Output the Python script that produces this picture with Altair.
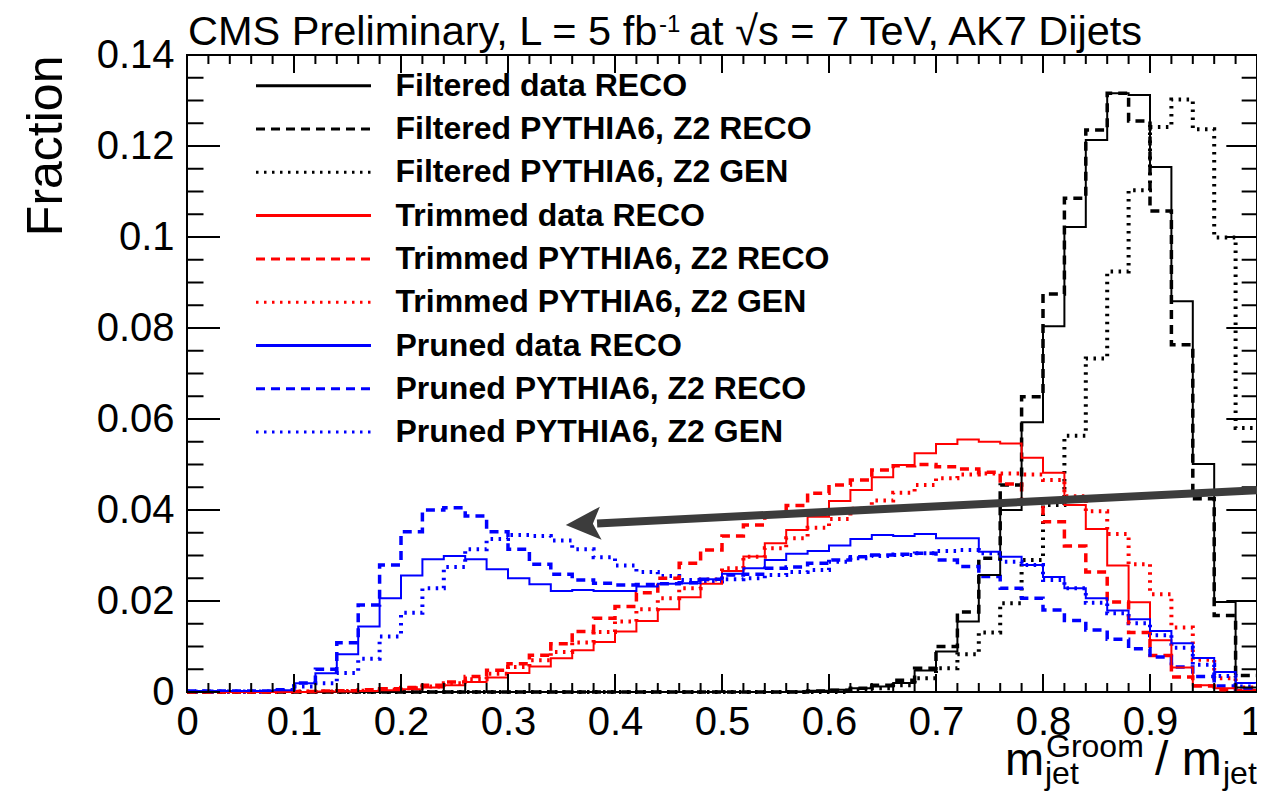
import altair as alt
import pandas as pd

# ---------------- data ----------------
bin_edges = [round(i * 0.02, 2) for i in range(51)]   # 50 bins of width 0.02 on [0, 1]

series_names = [
    "Filtered data RECO", "Filtered PYTHIA6, Z2 RECO", "Filtered PYTHIA6, Z2 GEN",
    "Trimmed data RECO", "Trimmed PYTHIA6, Z2 RECO", "Trimmed PYTHIA6, Z2 GEN",
    "Pruned data RECO", "Pruned PYTHIA6, Z2 RECO", "Pruned PYTHIA6, Z2 GEN",
]

filtered_data_reco = [0, 0, 0, 0, 0, 0, 0, 0, 0, 0,
                      0, 0, 0, 0, 0, 0, 0, 0, 0, 0,
                      0, 0, 0, 0, 0, 0, 0, 0, 0.0001, 0.0003,
                      0.0005, 0.0008, 0.0012, 0.002, 0.0047, 0.0089, 0.0155, 0.0257, 0.040, 0.0593,
                      0.0804, 0.1022, 0.1213, 0.1316, 0.1312, 0.1154, 0.0859, 0.0501, 0.0198, 0.001]
filtered_mc_reco = [0, 0, 0, 0, 0, 0, 0, 0, 0, 0,
                    0, 0, 0, 0, 0, 0, 0, 0, 0, 0,
                    0, 0, 0, 0, 0, 0, 0, 0, 0, 0.0002,
                    0.0004, 0.0008, 0.0015, 0.0026, 0.0052, 0.0100, 0.0176, 0.0294, 0.0455, 0.0649,
                    0.0875, 0.1085, 0.1235, 0.1316, 0.1255, 0.1057, 0.0763, 0.0425, 0.0168, 0.0036]
filtered_mc_gen = [0, 0, 0, 0, 0, 0, 0, 0, 0, 0,
                   0, 0, 0, 0, 0, 0, 0, 0, 0, 0,
                   0, 0, 0, 0, 0, 0, 0, 0, 0, 0,
                   0, 0.0005, 0.0008, 0.0015, 0.003, 0.0052, 0.0083, 0.0131, 0.0195, 0.029,
                   0.0411, 0.0563, 0.0733, 0.0924, 0.1103, 0.1242, 0.1302, 0.1237, 0.0999, 0.058]
trimmed_data_reco = [0, 0, 0, 0, 0, 0, 0.0001, 0.0001, 0.0002, 0.0004,
                     0.0006, 0.001, 0.0015, 0.0022, 0.0032, 0.0042, 0.0056, 0.0074, 0.0092, 0.011,
                     0.0133, 0.0156, 0.0182, 0.0208, 0.0238, 0.0266, 0.0298, 0.0327, 0.0356, 0.0385,
                     0.042, 0.0444, 0.0472, 0.0499, 0.0525, 0.0545, 0.0555, 0.055, 0.0546, 0.0515,
                     0.0482, 0.0411, 0.0358, 0.0278, 0.0197, 0.0114, 0.0054, 0.0015, 0.0008, 0.0003]
trimmed_mc_reco = [0, 0, 0, 0, 0.0001, 0.0001, 0.0002, 0.0003, 0.0005, 0.0007,
                   0.001, 0.0015, 0.0022, 0.0034, 0.0048, 0.0062, 0.0081, 0.0106, 0.0133, 0.0162,
                   0.0188, 0.0218, 0.025, 0.0283, 0.0312, 0.0343, 0.0367, 0.0392, 0.041, 0.0437,
                   0.0455, 0.0466, 0.0488, 0.0497, 0.05, 0.0495, 0.049, 0.0483, 0.0457, 0.0418,
                   0.0374, 0.0321, 0.0264, 0.0198, 0.0131, 0.008, 0.0033, 0.0013, 0.0005, 0.0003]
trimmed_mc_gen = [0, 0, 0, 0, 0, 0.0001, 0.0001, 0.0002, 0.0003, 0.0005,
                  0.0008, 0.0012, 0.0019, 0.0028, 0.004, 0.0055, 0.007, 0.0088, 0.0109, 0.0132,
                  0.0155, 0.0182, 0.0206, 0.0228, 0.0247, 0.0272, 0.0297, 0.0316, 0.0338, 0.0361,
                  0.038, 0.0403, 0.0421, 0.0438, 0.0455, 0.047, 0.0478, 0.048, 0.048, 0.0478,
                  0.0466, 0.043, 0.0397, 0.0347, 0.0281, 0.0215, 0.0142, 0.0071, 0.003, 0.001]
pruned_data_reco = [0.0002, 0.0002, 0.0002, 0.0002, 0.0004, 0.0019, 0.0041, 0.0083, 0.0144, 0.0206,
                    0.0256, 0.0292, 0.0299, 0.0292, 0.027, 0.025, 0.0237, 0.0222, 0.0224, 0.0222,
                    0.0222, 0.0232, 0.0238, 0.0239, 0.0248, 0.026, 0.0272, 0.029, 0.0304, 0.031,
                    0.0322, 0.0336, 0.0345, 0.0343, 0.0347, 0.0338, 0.0338, 0.0308, 0.0297, 0.0279,
                    0.0253, 0.0228, 0.0206, 0.0179, 0.016, 0.0134, 0.0107, 0.0075, 0.0044, 0.002]
pruned_mc_reco = [0.0002, 0.0002, 0.0002, 0.0002, 0.0005, 0.002, 0.005, 0.0108, 0.0191, 0.0279,
                  0.0352, 0.040, 0.0405, 0.0387, 0.0352, 0.0314, 0.0281, 0.0259, 0.0246, 0.0239,
                  0.0235, 0.0236, 0.0238, 0.024, 0.0248, 0.0257, 0.0259, 0.0272, 0.0275, 0.0283,
                  0.029, 0.0297, 0.0301, 0.0303, 0.0305, 0.029, 0.0276, 0.0254, 0.0228, 0.0206,
                  0.018, 0.0157, 0.0136, 0.0116, 0.0095, 0.0077, 0.0055, 0.0034, 0.0013, 0.0006]
pruned_mc_gen = [0.0001, 0.0001, 0.0001, 0.0001, 0.0002, 0.0012, 0.0019, 0.0042, 0.0073, 0.0122,
                 0.0174, 0.0228, 0.0275, 0.0314, 0.0336, 0.0345, 0.0343, 0.0333, 0.0314, 0.0296,
                 0.0278, 0.0264, 0.0255, 0.0246, 0.0243, 0.0248, 0.025, 0.0257, 0.0264, 0.0268,
                 0.0286, 0.0294, 0.0299, 0.0301, 0.0305, 0.031, 0.0312, 0.0305, 0.0286, 0.0279,
                 0.0246, 0.0228, 0.0196, 0.0173, 0.0151, 0.0125, 0.0097, 0.006, 0.0035, 0.0012]

series_values = [filtered_data_reco, filtered_mc_reco, filtered_mc_gen,
                 trimmed_data_reco, trimmed_mc_reco, trimmed_mc_gen,
                 pruned_data_reco, pruned_mc_reco, pruned_mc_gen]

# axis ticks / labels
x_major_ticks = [0.0, 0.1, 0.2, 0.3, 0.4, 0.5, 0.6, 0.7, 0.8, 0.9, 1.0]
x_minor_ticks = [round(i * 0.02, 2) for i in range(51) if i % 5 != 0]
y_major_ticks = [0.0, 0.02, 0.04, 0.06, 0.08, 0.10, 0.12, 0.14]
y_minor_ticks = [round(i * 0.005, 3) for i in range(29) if i % 4 != 0]

# annotation arrow (tip, tail) in data coordinates
arrow_x = [0.354, 1.004]
arrow_y = [0.0367, 0.0444]

# ---------------- styles ----------------
W, H = 1070, 637
FONT = "Liberation Sans"
series_colors = ["#000000"] * 3 + ["#ff0000"] * 3 + ["#0000ff"] * 3
style_of = ["solid", "dashed", "dotted"] * 3
dash_of = {"solid": [1, 0], "dashed": [9, 6], "dotted": [2.5, 5.5]}
width_of = {"solid": 2, "dashed": 3.5, "dotted": 4}
series_dashes = [dash_of[s] for s in style_of]

rows = []
for name, style, vals in zip(series_names, style_of, series_values):
    ys = list(vals) + [vals[-1]]
    for xe, yv in zip(bin_edges, ys):
        rows.append({"series": name, "style": style, "x": xe, "y": yv})
hist_df = pd.DataFrame(rows)

x_scale = alt.Scale(domain=[0, 1], nice=False, zero=False)
y_scale = alt.Scale(domain=[0, 0.14], nice=False, zero=False)

legend = alt.Legend(
    title=None, orient="none", legendX=0, legendY=14.7, direction="vertical",
    symbolType="M -11.5 0 L 11.5 0", symbolSize=100, symbolStrokeWidth=3,
    symbolOffset=110.5, labelOffset=66, labelFontSize=32, labelFont=FONT,
    labelFontWeight="bold", labelColor="black", labelLimit=0, rowPadding=11.3, padding=0,
)

color_enc = alt.Color("series:N", scale=alt.Scale(domain=series_names, range=series_colors), legend=legend)
dash_enc = alt.StrokeDash("series:N", scale=alt.Scale(domain=series_names, range=series_dashes), legend=legend)

x_axis = alt.Axis(values=x_major_ticks, title=None, grid=False, ticks=False, domain=False,
                  labelFontSize=40, labelFont=FONT, labelColor="black", labelPadding=10,
                  labelFlush=False, labelOverlap=False, format=".1~f",
                  labelOffset=alt.condition("datum.value == 1", alt.value(-6), alt.value(0)))
y_axis = alt.Axis(values=y_major_ticks, title="Fraction", grid=False, ticks=False, domain=False,
                  labelFontSize=40, labelFont=FONT, labelColor="black", labelPadding=13,
                  labelFlush=False, labelOverlap=False, format=".2~f",
                  titleFontSize=50, titleFont=FONT, titleFontWeight="normal", titleColor="black",
                  titleAngle=270, titleAlign="right", titleBaseline="alphabetic",
                  titleX=-126, titleY=0)


def X(field):
    return alt.X(field, scale=x_scale, axis=x_axis)


def Y(field):
    return alt.Y(field, scale=y_scale, axis=y_axis)


layers = []
for style in ["dotted", "dashed", "solid"]:
    sub = hist_df[hist_df["style"] == style]
    layers.append(
        alt.Chart(sub).mark_line(interpolate="step-after", strokeWidth=width_of[style]).encode(
            x=X("x:Q"), y=Y("y:Q"), color=color_enc, strokeDash=dash_enc, detail="series:N",
        )
    )

# ---- inward ticks on all four sides ----
xt_major = pd.DataFrame({"x": x_major_ticks})
xt_minor = pd.DataFrame({"x": x_minor_ticks})
yt_major = pd.DataFrame({"y": y_major_ticks})
yt_minor = pd.DataFrame({"y": y_minor_ticks})


def xticks(df, length):
    bot = alt.Chart(df).mark_rule(color="black", strokeWidth=2).encode(
        x=X("x:Q"), y=alt.value(H), y2=alt.value(H - length))
    top = alt.Chart(df).mark_rule(color="black", strokeWidth=2).encode(
        x=X("x:Q"), y=alt.value(0), y2=alt.value(length))
    return [bot, top]


def yticks(df, length):
    left = alt.Chart(df).mark_rule(color="black", strokeWidth=2).encode(
        y=Y("y:Q"), x=alt.value(0), x2=alt.value(length))
    right = alt.Chart(df).mark_rule(color="black", strokeWidth=2).encode(
        y=Y("y:Q"), x=alt.value(W), x2=alt.value(W - length * 0.93))
    return [left, right]


tick_layers = xticks(xt_major, 18) + xticks(xt_minor, 9) + yticks(yt_major, 33) + yticks(yt_minor, 16.5)

# ---- arrow ----
shaft_frac = 0.045
arrow_shaft_df = pd.DataFrame({
    "x": [arrow_x[0] + shaft_frac * (arrow_x[1] - arrow_x[0])],
    "y": [arrow_y[0] + shaft_frac * (arrow_y[1] - arrow_y[0])],
    "x1": [arrow_x[1]], "y1": [arrow_y[1]],
})
arrow_head_df = pd.DataFrame({"x": [arrow_x[0]], "y": [arrow_y[0]]})
ARROW = "#3c3c3c"
shaft = alt.Chart(arrow_shaft_df).mark_rule(color=ARROW, strokeWidth=8).encode(
    x=X("x:Q"), x2="x1:Q", y=Y("y:Q"), y2="y1:Q")
head = alt.Chart(arrow_head_df).mark_point(
    shape="M 0 0 L 2 -0.95 L 1.55 0 L 2 0.95 Z", size=1225, angle=357.1,
    filled=True, color=ARROW, opacity=1, strokeWidth=0).encode(x=X("x:Q"), y=Y("y:Q"))

# ---- title and x-axis title as text pieces ----
one = pd.DataFrame({"k": [0]})


def txt(text, x, y, size, **kw):
    return alt.Chart(one).mark_text(text=text, align="left", baseline="alphabetic",
                                    font=FONT, fontSize=size, color="black", **kw).encode(
        x=alt.value(x), y=alt.value(y))


title_layers = [
    txt("CMS Preliminary, L = 5 fb", 1, -10, 41.5),
    txt("-1", 472, -23, 24),
    txt("at \u221as = 7 TeV, AK7 Dijets", 502, -10, 41.5),
]
xtitle_layers = [
    txt("m", 818, 720, 47),
    txt("Groom", 859, 702, 32),
    txt("jet", 858, 729, 32),
    txt("/ m", 968, 720, 48),
    txt("jet", 1036, 729, 32),
]

chart = alt.layer(*layers, *tick_layers, shaft, head, *title_layers, *xtitle_layers).properties(
    width=W, height=H,
    autosize=alt.AutoSizeParams(type="none"),
    padding={"left": 179, "top": 47, "right": 0, "bottom": 100},
).configure_view(stroke="black", strokeWidth=2)

chart.save("out.html", embed_options={"renderer": "svg", "actions": False})
